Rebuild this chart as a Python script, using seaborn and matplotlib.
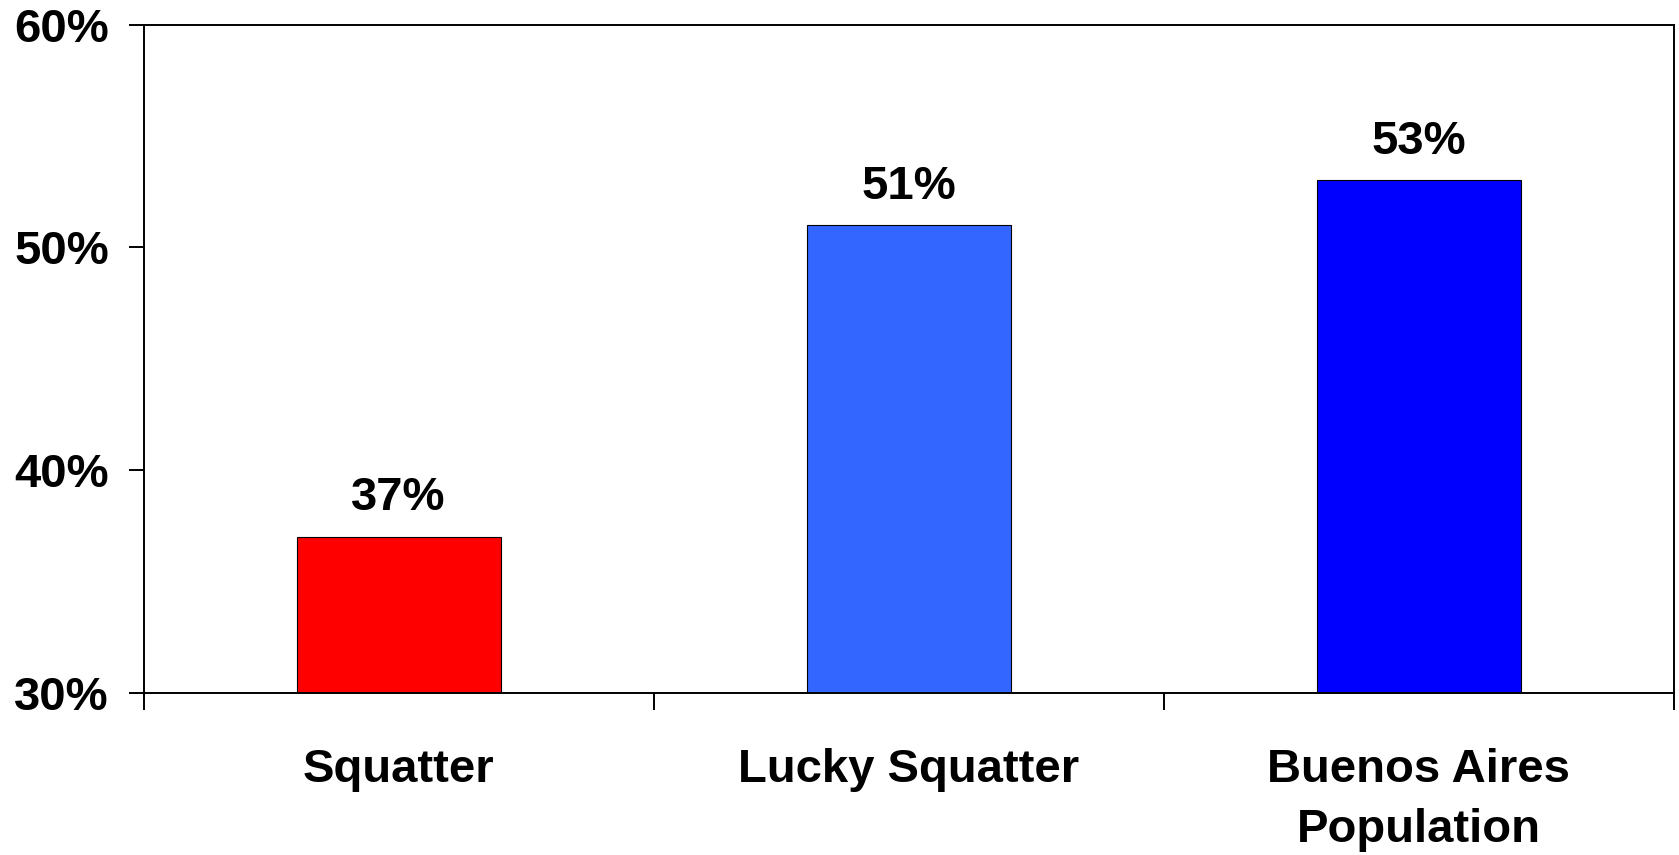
import matplotlib
matplotlib.use("Agg")
import matplotlib.pyplot as plt
import seaborn as sns
import pandas as pd
from matplotlib.ticker import FixedLocator, PercentFormatter

categories = ["Squatter", "Lucky Squatter", "Buenos Aires\nPopulation"]
values = [37, 51, 53]
value_labels = ["37%", "51%", "53%"]
colors = ["#FF0000", "#3366FF", "#0000FF"]
y_ticks = [30, 40, 50, 60]

sns.set_theme(style="white")
plt.rcParams['font.family'] = ['Liberation Sans', 'DejaVu Sans']
plt.rcParams['font.weight'] = 'bold'

df = pd.DataFrame({"cat": categories, "val": values})

fig = plt.figure(figsize=(16.79, 8.55), dpi=100)
ax = fig.add_axes([0.0855, 0.1897, 0.9968 - 0.0855, 0.9713 - 0.1897])

sns.barplot(data=df, x="cat", y="val", hue="cat", order=categories,
            palette=dict(zip(categories, colors)), legend=False,
            width=0.4, edgecolor="black", linewidth=0.8, saturation=1, ax=ax)

ax.set_ylim(30, 60)
ax.set_xlim(-0.5, 2.5)
ax.set_yticks(y_ticks)
ax.yaxis.set_major_formatter(PercentFormatter(decimals=0))
ax.set_xlabel("")
ax.set_ylabel("")

for i, (v, lab) in enumerate(zip(values, value_labels)):
    ax.annotate(lab, xy=(i, v), xytext=(0, 19.0), textcoords="offset points",
                ha="center", va="baseline", fontsize=34, fontweight="bold",
                color="black")

for s in ax.spines.values():
    s.set_visible(True)
    s.set_color("black")
    s.set_linewidth(1.4)

ax.xaxis.set_minor_locator(FixedLocator([-0.5, 0.5, 1.5, 2.5]))
ax.tick_params(axis="x", which="major", length=0, pad=40, labelsize=34)
ax.tick_params(axis="x", which="minor", length=12, width=1.4, color="black",
               direction="out", bottom=True)
ax.tick_params(axis="y", which="major", length=11, width=1.4, color="black",
               direction="out", left=True, pad=14, labelsize=34)
for t in ax.get_xticklabels() + ax.get_yticklabels():
    t.set_fontweight("bold")
    t.set_color("black")
for t in ax.get_xticklabels():
    t.set_linespacing(1.45)

fig.savefig("out.png", dpi=100, facecolor="white")
